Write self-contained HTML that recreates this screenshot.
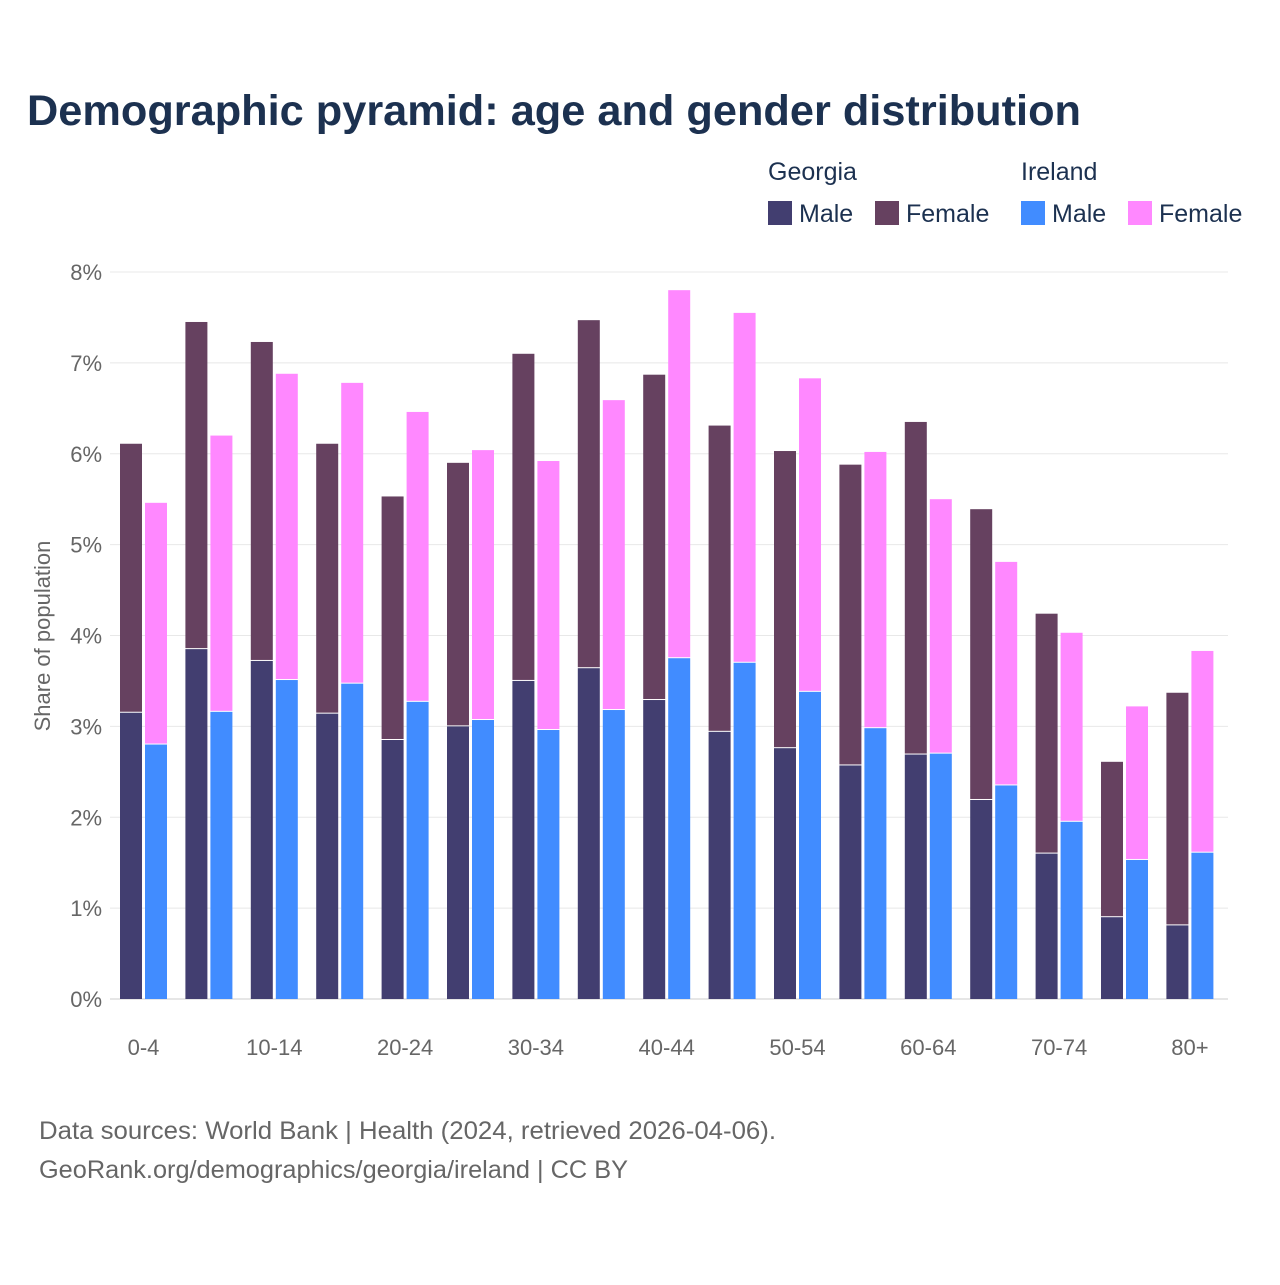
<!DOCTYPE html>
<html><head><meta charset="utf-8"><style>
body{margin:0;background:#fff;width:1280px;height:1280px;overflow:hidden;font-family:"Liberation Sans",sans-serif}
</style></head><body>
<svg id="chart" width="1280" height="1280" xmlns="http://www.w3.org/2000/svg">
<text x="27" y="125" font-size="43" font-weight="bold" fill="#1c3150" textLength="1054" lengthAdjust="spacingAndGlyphs">Demographic pyramid: age and gender distribution</text>
<g font-size="25" fill="#1c3150">
<text x="768" y="180">Georgia</text>
<text x="1021" y="180">Ireland</text>
<rect x="768" y="201" width="24" height="24" fill="#423e70"/>
<text x="799" y="222">Male</text>
<rect x="875" y="201" width="24" height="24" fill="#664160"/>
<text x="906" y="222">Female</text>
<rect x="1021" y="201" width="24" height="24" fill="#418cff"/>
<text x="1052" y="222">Male</text>
<rect x="1128" y="201" width="24" height="24" fill="#ff88ff"/>
<text x="1159" y="222">Female</text>
</g>
<text transform="translate(50,636) rotate(-90)" text-anchor="middle" font-size="22" fill="#666">Share of population</text>
<g id="grid"></g><g id="bars"></g><g id="xlabels"></g>
<text x="39" y="1139" font-size="25" fill="#666" textLength="737" lengthAdjust="spacingAndGlyphs">Data sources: World Bank | Health (2024, retrieved 2026-04-06).</text>
<text x="39" y="1178" font-size="25" fill="#666" textLength="589" lengthAdjust="spacingAndGlyphs">GeoRank.org/demographics/georgia/ireland | CC BY</text>
</svg>
<script>
const categories=["0-4","5-9","10-14","15-19","20-24","25-29","30-34","35-39","40-44","45-49","50-54","55-59","60-64","65-69","70-74","75-79","80+"];
const georgiaMale=[3.15,3.85,3.72,3.14,2.85,3.00,3.50,3.64,3.29,2.94,2.76,2.57,2.69,2.19,1.60,0.90,0.81];
const georgiaFemale=[2.96,3.60,3.51,2.97,2.68,2.90,3.60,3.83,3.58,3.37,3.27,3.31,3.66,3.20,2.64,1.71,2.56];
const irelandMale=[2.80,3.16,3.51,3.47,3.27,3.07,2.96,3.18,3.75,3.70,3.38,2.98,2.70,2.35,1.95,1.53,1.61];
const irelandFemale=[2.66,3.04,3.37,3.31,3.19,2.97,2.96,3.41,4.05,3.85,3.45,3.04,2.80,2.46,2.08,1.69,2.22];
const yTicks=[0,1,2,3,4,5,6,7,8];
const xLabelShown=["0-4","10-14","20-24","30-34","40-44","50-54","60-64","70-74","80+"];
const NS="http://www.w3.org/2000/svg";
const y=v=>999-v*90.875;
const xc=i=>143.5+i*65.4;
function mk(tag,attrs,parent){const e=document.createElementNS(NS,tag);for(const k in attrs)e.setAttribute(k,attrs[k]);parent.appendChild(e);return e;}
const grid=document.getElementById('grid'),bars=document.getElementById('bars'),xl=document.getElementById('xlabels');
yTicks.forEach(t=>{
 const l=mk('line',{x1:110,x2:1228,y1:y(t),y2:y(t),stroke:t===0?'#ccc':'#e8e8e8','stroke-width':1},grid);
 
 
 const tx=mk('text',{x:102,y:y(t)+8,'text-anchor':'end','font-size':22,fill:'#666'},grid);
 tx.textContent=t+'%';
 
 
});
categories.forEach((c,i)=>{
 const x0=xc(i);
 const gx=x0-23.5, ix=x0+1.5, w=22;
 let r=mk('rect',{x:gx,y:y(georgiaMale[i]),width:w,height:georgiaMale[i]*90.875,fill:'#423e70'},bars);
 
 
 r=mk('rect',{x:gx,y:y(georgiaMale[i]+georgiaFemale[i]),width:w,height:georgiaFemale[i]*90.875-1,fill:'#664160'},bars);
 
 
 r=mk('rect',{x:ix,y:y(irelandMale[i]),width:w,height:irelandMale[i]*90.875,fill:'#418cff'},bars);
 
 
 r=mk('rect',{x:ix,y:y(irelandMale[i]+irelandFemale[i]),width:w,height:irelandFemale[i]*90.875-1,fill:'#ff88ff'},bars);
 
 
 if(xLabelShown.includes(c)){
  const t=mk('text',{x:x0,y:1055,'text-anchor':'middle','font-size':22,fill:'#666'},xl);
  t.textContent=c;
  
  
 }
});
</script>
</body></html>
